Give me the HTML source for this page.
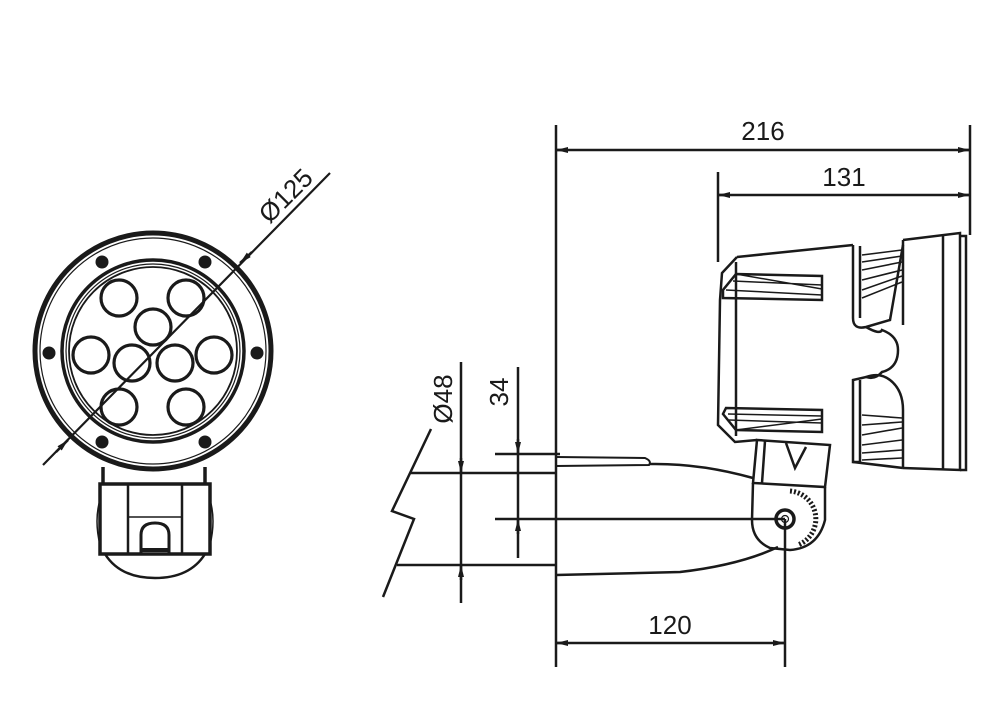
<!DOCTYPE html>
<html><head><meta charset="utf-8"><style>
html,body{margin:0;padding:0;background:#fff;}
svg{display:block;}
text{font-family:"Liberation Sans","DejaVu Sans",sans-serif;fill:#1a1a1a;}
</style></head><body>
<svg width="1005" height="702" viewBox="0 0 1005 702" xmlns="http://www.w3.org/2000/svg">
<defs>
<marker id="a" viewBox="0 0 12 6" refX="12" refY="3" markerWidth="12" markerHeight="6" orient="auto" markerUnits="userSpaceOnUse"><path d="M0,0 L12,3 L0,6 z" fill="#1a1a1a"/></marker>
</defs>
<g stroke="#1a1a1a" fill="none" stroke-width="2.5">
<!-- LEFT LAMP -->
<circle cx="153" cy="351" r="118" stroke-width="5"/>
<circle cx="153" cy="351" r="113" stroke-width="1.2"/>
<circle cx="153" cy="351" r="91" stroke-width="3.5"/>
<circle cx="153" cy="351" r="87" stroke-width="1.2"/>
<circle cx="153" cy="351" r="84" stroke-width="1.8"/>
<g fill="#1a1a1a" stroke="none">
<circle cx="102" cy="262" r="6.5"/><circle cx="205" cy="262" r="6.5"/>
<circle cx="49" cy="353" r="6.5"/><circle cx="257" cy="353" r="6.5"/>
<circle cx="102" cy="442" r="6.5"/><circle cx="205" cy="442" r="6.5"/>
</g>
<g stroke-width="3.2">
<circle cx="119" cy="298" r="18"/><circle cx="186" cy="298" r="18"/>
<circle cx="153" cy="327" r="18"/>
<circle cx="91" cy="355" r="18"/><circle cx="214" cy="355" r="18"/>
<circle cx="132" cy="363" r="18"/><circle cx="175" cy="363" r="18"/>
<circle cx="119" cy="407" r="18"/><circle cx="186" cy="407" r="18"/>
</g>
<path d="M103,467 V485 M205,467 V485" stroke-width="3.5"/>
<rect x="100" y="484" width="110" height="70" stroke-width="3.5"/>
<path d="M128,484 V554 M182,484 V554" stroke-width="2.5"/>
<path d="M128,517 H182" stroke-width="1.5"/>
<path d="M141,554 V535 Q141,523 155,523 Q169,523 169,535 V554" stroke-width="3"/>
<path d="M141,550 H169" stroke-width="4"/>
<path d="M105,554 Q120,578 155,578 Q190,578 205,554" stroke-width="2.5"/>
<path d="M100,500 Q94,520 100,545 M210,500 Q216,520 210,545" stroke-width="1.5"/>
<!-- Ø125 -->
<line x1="330" y1="173" x2="43" y2="465" stroke-width="2.2"/>
<path d="M252,252 L240,263" marker-end="url(#a)"/>
<path d="M56,452 L68,440" marker-end="url(#a)"/>

<!-- RIGHT DIMENSIONS -->
<line x1="556" y1="125" x2="556" y2="667"/>
<line x1="970" y1="125" x2="970" y2="235"/>
<line x1="718" y1="172" x2="718" y2="262"/>
<line x1="785" y1="519" x2="785" y2="667"/>
<line x1="556" y1="150" x2="970" y2="150"/>
<path d="M568,150 L556,150" marker-end="url(#a)"/>
<path d="M958,150 L970,150" marker-end="url(#a)"/>
<line x1="718" y1="195" x2="970" y2="195"/>
<path d="M730,195 L718,195" marker-end="url(#a)"/>
<path d="M958,195 L970,195" marker-end="url(#a)"/>
<line x1="556" y1="643" x2="785" y2="643"/>
<path d="M568,643 L556,643" marker-end="url(#a)"/>
<path d="M773,643 L785,643" marker-end="url(#a)"/>
<!-- Ø48 / 34 -->
<line x1="461" y1="362" x2="461" y2="603"/>
<path d="M461,458 L461,473" marker-end="url(#a)"/>
<path d="M461,580 L461,565" marker-end="url(#a)"/>
<line x1="410" y1="473" x2="556" y2="473"/>
<line x1="397" y1="565" x2="556" y2="565"/>
<line x1="518" y1="367" x2="518" y2="558"/>
<path d="M518,439 L518,454" marker-end="url(#a)"/>
<path d="M518,534 L518,519" marker-end="url(#a)"/>
<line x1="495" y1="454" x2="560" y2="454"/>
<line x1="495" y1="519" x2="785" y2="519"/>
<path d="M431,429 L392,511 L414,519 L383,597"/>

<!-- RIGHT LAMP BODY -->
<path d="M737,257 L853,245 M737,257 L722,273 L720,300 L718,425 L735,442 L757,440"/>
<path d="M736,262 V436"/>
<path d="M736,274 L723,290 L723,298 L822,300 L822,276 Z"/>
<path d="M736,274 L822,289 M733,281 L822,285 M726,290 L822,295" stroke-width="1.5"/>
<path d="M726,408 L822,410 L822,432 L736,430 L723,414 Z"/>
<path d="M736,430 L822,419 M729,420 L822,423 M728,414 L822,416" stroke-width="1.5"/>
<path d="M853,245 V318 Q853,330 866,327 L890,320 L903,245"/>
<path d="M860,246 V318 M903,240 V325"/>
<path d="M866,327 Q880,335 882,330 Q898,336 898,350 Q898,368 882,372 Q875,380 866,377 L853,380 V462 L860,462 V380"/>
<path d="M866,377 Q880,372 890,380 Q903,390 903,410 V468"/>
<path d="M853,462 L903,468"/>
<g stroke-width="1.6">
<path d="M862,255 L902,250 M862,262 L902,256 M862,270 L902,262 M862,280 L902,270 M862,290 L902,276 M862,298 L902,282"/>
<path d="M862,415 L902,418 M862,425 L902,422 M862,435 L902,428 M862,445 L902,440 M862,453 L902,450 M862,460 L902,458"/>
</g>
<path d="M903,240 L960,233 V470 L903,468"/>
<path d="M943,236 V469 M960,236 H966 V470 H960"/>
<!-- arm -->
<path d="M556,457 L645,458 Q652,461 649,465 L556,466" stroke-width="2"/>
<path d="M649,464 Q700,463 753,478"/>
<path d="M556,575 L680,572 Q740,565 778,547"/>
<path d="M757,440 L830,445 L825,487 L753,483 Z"/>
<path d="M765,441 L762,483 M786,443 L795,468 L806,447"/>
<path d="M753,483 L752,520 Q752,540 770,548 L790,550 Q818,548 825,520 V487"/>
<circle cx="785" cy="519" r="9" stroke-width="3.5"/>
<circle cx="785" cy="519" r="3.5" stroke-width="1.2"/>
<path d="M790,491 A28,28 0 0 1 798,545" stroke-width="5" stroke-dasharray="2,2"/>
</g>
<text x="763" y="140" font-size="26" text-anchor="middle">216</text>
<text x="844" y="186" font-size="26" text-anchor="middle">131</text>
<text x="670" y="634" font-size="26" text-anchor="middle">120</text>
<text transform="translate(452,399) rotate(-90)" font-size="26" text-anchor="middle">Ø48</text>
<text transform="translate(508,392) rotate(-90)" font-size="26" text-anchor="middle">34</text>
<text transform="translate(292,202) rotate(-45)" font-size="26" text-anchor="middle">Ø125</text>
</svg>
</body></html>
